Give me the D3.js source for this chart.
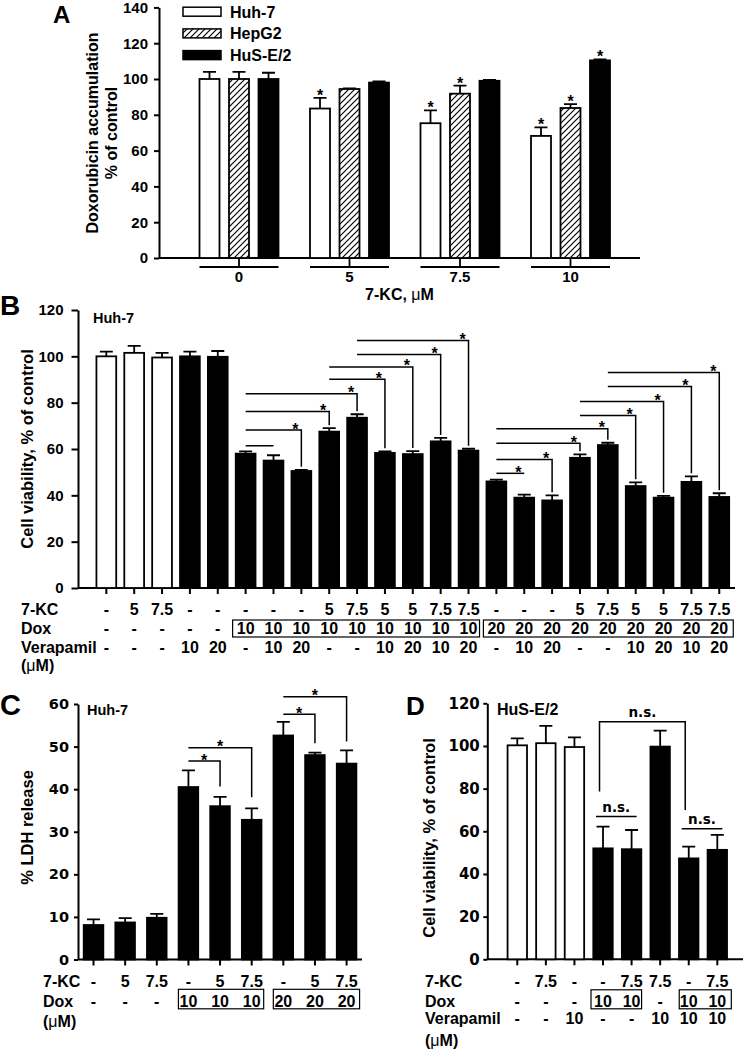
<!DOCTYPE html>
<html><head><meta charset="utf-8">
<script src="https://cdn.jsdelivr.net/npm/d3@7"></script>
<style>
body{margin:0;background:#fff}
svg{display:block}
text{font-family:"Liberation Sans",Arial,sans-serif;font-weight:bold;fill:#000}
</style>
</head><body>
<svg id="fig" width="748" height="1050"></svg>
<script>
// ================= DATA =================
// Panel A: doxorubicin accumulation
const aGroups = ["0", "5", "7.5", "10"];
const aSeries = ["Huh-7", "HepG2", "HuS-E/2"];
const aHuh7 = [100, 83.5, 75.3, 68.2];
const aHuh7Err = [4, 6, 7.2, 4.8];
const aHepG2 = [100, 94.4, 91.8, 83.8];
const aHepG2Err = [4, 0.3, 4.5, 2.2];
const aHuSE2 = [100, 98, 99, 110.4];
const aHuSE2Err = [3.5, 0.6, 0.5, 0.6];
const aHuh7Sig = [false, true, true, true];
const aHepG2Sig = [false, false, true, true];
const aHuSE2Sig = [false, false, false, true];
const aTicks = [0, 20, 40, 60, 80, 100, 120, 140];

// Panel B: Huh-7 cell viability
const bKC  = ["-","5","7.5","-","-","-","-","-","5","7.5","5","5","7.5","7.5","-","-","-","5","7.5","5","5","7.5","7.5"];
const bDox = ["-","-","-","-","-","10","10","10","10","10","10","10","10","10","20","20","20","20","20","20","20","20","20"];
const bVer = ["-","-","-","10","20","-","10","20","-","-","10","20","10","20","-","10","20","-","-","10","20","10","20"];
const bKind = ["ctrl","ctrl","ctrl","trt","trt","trt","trt","trt","trt","trt","trt","trt","trt","trt","trt","trt","trt","trt","trt","trt","trt","trt","trt"];
const bValues = [100, 101.5, 99.5, 100, 99.8, 58, 55, 50.5, 67.5, 73.5, 58.3, 57.8, 63.3, 59.3, 46, 39, 37.8, 56.2, 61.7, 44, 39, 45.8, 39.3];
const bErr    = [2, 3, 2, 2, 2.5, 1, 2.3, 0.5, 1.5, 1.5, 0.7, 1.3, 1.5, 0.8, 0.8, 1.3, 2.2, 1.5, 1, 1.6, 0.8, 2.4, 1.6];
// [from bar, to bar, bracket level, has asterisk, has drop]
const bBrackets = [
  [5, 6, 61.4, false, false], [5, 7, 68.2, true, true], [5, 8, 76.2, true, true], [5, 9, 83.9, true, true],
  [8, 10, 90.1, true, true], [8, 11, 95.4, true, true], [9, 12, 100.8, true, true], [9, 13, 106.8, true, true],
  [14, 15, 49.5, true, false], [14, 16, 55.5, true, true], [14, 17, 62.5, true, true], [14, 18, 68.7, true, true],
  [17, 19, 74.5, true, true], [17, 20, 80.5, true, true], [18, 21, 87, true, true], [18, 22, 93, true, true]
];
const bTicks = [0, 20, 40, 60, 80, 100, 120];

// Panel C: Huh-7 LDH release
const cKC  = ["-","5","7.5","-","5","7.5","-","5","7.5"];
const cDox = ["-","-","-","10","10","10","20","20","20"];
const cKind = ["trt","trt","trt","trt","trt","trt","trt","trt","trt"];
const cValues = [8.1, 8.7, 9.8, 40.5, 36, 32.8, 52.6, 48, 46];
const cErr    = [1.3, 1.0, 0.9, 3.9, 2.2, 2.7, 3.2, 0.6, 3.1];
// [from, to, level, drop end]
const cBrackets = [[3, 4, 46.6, 40.6], [3, 5, 49.7, 38.1], [6, 7, 57.6, 50.8], [6, 8, 61.7, 51.2]];
const cTicks = [0, 10, 20, 30, 40, 50, 60];

// Panel D: HuS-E/2 cell viability
const dKC  = ["-","7.5","-","-","7.5","7.5","-","7.5"];
const dDox = ["-","-","-","10","10","-","10","10"];
const dVer = ["-","-","10","-","-","10","10","10"];
const dKind = ["ctrl","ctrl","ctrl","trt","trt","trt","trt","trt"];
const dValues = [100.3, 101.3, 99.5, 52, 51.6, 99.7, 47.3, 51.3];
const dErr    = [3.3, 8.1, 4.5, 10.2, 9, 7.5, 5.5, 7];
// big bracket [from, to, level, left drop end, right drop end]
const dBigBracket = [3, 6, 111.4, 78.6, 70];
// small n.s. lines [from, to, level]
const dSmall = [[3, 4, 66.9], [6, 7, 61.2]];
const dTicks = [0, 20, 40, 60, 80, 100, 120];

// ================= DRAWING =================
const svg = d3.select("#fig");
const SANS = '"Liberation Sans", Arial, sans-serif';
const WIDE = '"DejaVu Sans", sans-serif';
const SW = 1.8;

const defs = svg.append("defs");
defs.append("pattern").attr("id", "hatch").attr("patternUnits", "userSpaceOnUse")
  .attr("width", 6).attr("height", 6)
  .call(p => {
    p.append("rect").attr("width", 6).attr("height", 6).attr("fill", "#fff");
    p.append("path").attr("d", "M-1,1 l2,-2 M0,6 l6,-6 M5,7 l2,-2")
      .attr("stroke", "#000").attr("stroke-width", 1.2);
  });

function leftAxis(x0, y, ticks, o) {
  const g = svg.append("g").attr("transform", `translate(${x0},0)`)
    .call(d3.axisLeft(y).tickValues(ticks).tickSize(o.tick).tickPadding(o.pad).tickSizeOuter(0));
  g.select(".domain").attr("stroke", "#000").attr("stroke-width", 2);
  g.selectAll(".tick line").attr("stroke", "#000").attr("stroke-width", 2);
  g.selectAll(".tick text").attr("fill", "#000")
    .style("font-family", o.font).style("font-size", o.size + "px").style("font-weight", "bold");
  return g;
}

function baseLine(x0, x1, yb) {
  svg.append("line").attr("x1", x0).attr("x2", x1).attr("y1", yb).attr("y2", yb)
    .attr("stroke", "#000").attr("stroke-width", 2);
}

function bottomTicks(x, yb, len) {
  const g = svg.append("g").attr("transform", `translate(0,${yb})`)
    .call(d3.axisBottom(x).tickSize(len).tickFormat("").tickSizeOuter(0));
  g.select(".domain").remove();
  g.selectAll(".tick line").attr("stroke", "#000").attr("stroke-width", 2);
}

function bars(x, y, vals, errs, kinds, cap) {
  const bw = x.bandwidth();
  const data = vals.map((v, i) => ({ i, v, e: errs[i], k: kinds[i] }));
  const g = svg.append("g");
  g.selectAll("path").data(data).join("path")
    .attr("d", d => {
      const cx = x(d.i) + bw / 2, yt = y(d.v + d.e);
      return `M${cx},${y(d.v)}V${yt}M${cx - cap},${yt}H${cx + cap}`;
    })
    .attr("stroke", "#000").attr("stroke-width", SW).attr("fill", "none");
  g.selectAll("rect").data(data).join("rect")
    .attr("x", d => x(d.i)).attr("y", d => y(d.v))
    .attr("width", bw).attr("height", d => y(0) - y(d.v))
    .attr("fill", d => d.k === "ctrl" ? "#fff" : "#000")
    .attr("stroke", "#000").attr("stroke-width", SW);
}

function rowLabels(x, rows, labelX, size) {
  const bw = x.bandwidth();
  rows.forEach(r => {
    const t = svg.append("text").attr("x", labelX).attr("y", r.yc + size * 0.36)
      .style("font-size", size + "px");
    if (r.label === "(μM)") {
      t.append("tspan").text("(");
      t.append("tspan").style("font-weight", "normal").text("μ");
      t.append("tspan").text("M)");
    } else t.text(r.label);
    if (r.vals) {
      svg.append("g").selectAll("text").data(r.vals).join("text")
        .attr("x", (d, i) => x(i) + bw / 2).attr("y", r.yc + size * 0.36)
        .attr("text-anchor", "middle").style("font-size", size + "px").text(d => d);
    }
  });
}

function box(x, i0, i1, yc, l, r, top, bot) {
  const bw = x.bandwidth();
  const xa = x(i0) + bw / 2 - l, xb = x(i1) + bw / 2 + r;
  svg.append("rect").attr("x", xa).attr("y", yc - top).attr("width", xb - xa).attr("height", top + bot)
    .attr("fill", "none").attr("stroke", "#000").attr("stroke-width", 1.2);
}

function star(xc, yLine, size) {
  svg.append("text").attr("x", xc).attr("y", yLine + 4.5).attr("text-anchor", "middle")
    .style("font-size", size + "px").text("*");
}

function yLabel(lines, xBase, yc, size, gap) {
  lines.forEach((s, i) => {
    svg.append("text").attr("transform", `translate(${xBase + i * gap},${yc}) rotate(-90)`)
      .attr("text-anchor", "middle").style("font-size", size + "px").text(s);
  });
}

function panelLetter(s, x, y, size) {
  svg.append("text").attr("x", x).attr("y", y).style("font-size", size + "px").text(s);
}

// ---------------- Panel A ----------------
{
  const y = d3.scaleLinear().domain([0, 140]).range([258, 7.4]);
  const xg = d3.scaleBand().domain(aGroups).range([183.75, 625.75]);
  const xs = d3.scaleBand().domain(aSeries).range([-39.5, 39.5]).paddingInner(0.322);
  const series = [
    { name: aSeries[0], vals: aHuh7, errs: aHuh7Err, sig: aHuh7Sig, fill: "#fff" },
    { name: aSeries[1], vals: aHepG2, errs: aHepG2Err, sig: aHepG2Sig, fill: "url(#hatch)" },
    { name: aSeries[2], vals: aHuSE2, errs: aHuSE2Err, sig: aHuSE2Sig, fill: "#000" }
  ];
  leftAxis(159, y, aTicks, { tick: 5, pad: 6, size: 15, font: SANS });
  baseLine(159, 640, y(0));
  const gc = g => xg(g) + xg.bandwidth() / 2;
  const bw = xs.bandwidth();
  series.forEach(s => {
    const data = aGroups.map((g, i) => ({ g, v: s.vals[i], e: s.errs[i], sig: s.sig[i] }));
    const G = svg.append("g");
    G.selectAll("path").data(data).join("path")
      .attr("d", d => {
        const cx = gc(d.g) + xs(s.name) + bw / 2, yt = y(d.v + d.e);
        return `M${cx},${y(d.v)}V${yt}M${cx - 6.5},${yt}H${cx + 6.5}`;
      }).attr("stroke", "#000").attr("stroke-width", SW).attr("fill", "none");
    G.selectAll("rect").data(data).join("rect")
      .attr("x", d => gc(d.g) + xs(s.name)).attr("y", d => y(d.v))
      .attr("width", bw).attr("height", d => y(0) - y(d.v))
      .attr("fill", s.fill).attr("stroke", "#000").attr("stroke-width", SW);
    G.selectAll("text").data(data.filter(d => d.sig)).join("text")
      .attr("x", d => gc(d.g) + xs(s.name) + bw / 2).attr("y", d => y(d.v + d.e) + 3)
      .attr("text-anchor", "middle").style("font-size", "16px").text("*");
  });
  // group underlines with ticks
  aGroups.forEach(g => {
    const c = gc(g);
    svg.append("path").attr("d", `M${c - 39.5},267H${c + 39.5}M${c},${y(0)}V267`)
      .attr("stroke", "#000").attr("stroke-width", 1.8).attr("fill", "none");
    svg.append("text").attr("x", c).attr("y", 281.5).attr("text-anchor", "middle")
      .style("font-size", "15px").text(g);
  });
  const xt = svg.append("text").attr("x", 399.5).attr("y", 300).attr("text-anchor", "middle").style("font-size", "16px");
  xt.append("tspan").text("7-KC, ");
  xt.append("tspan").style("font-weight", "normal").text("μ");
  xt.append("tspan").text("M");
  // legend
  series.forEach((s, i) => {
    const yc = 11.7 + i * 21.7;
    svg.append("rect").attr("x", 183).attr("y", yc - 4.5).attr("width", 38).attr("height", 9)
      .attr("fill", s.fill).attr("stroke", "#000").attr("stroke-width", 1.5);
    svg.append("text").attr("x", 230).attr("y", yc + 5.8).style("font-size", "16px").text(s.name);
  });
  yLabel(["Doxorubicin accumulation", "% of control"], 98, 133, 16, 19);
  panelLetter("A", 53, 23, 24);
}

// ---------------- Panel B ----------------
{
  const y = d3.scaleLinear().domain([0, 120]).range([588, 310]);
  const x = d3.scaleBand().domain(d3.range(bValues.length)).range([92.4, 733.2]).paddingInner(0.29).paddingOuter(0.145);
  const bw = x.bandwidth();
  const cx = i => x(i) + bw / 2;
  leftAxis(78, y, bTicks, { tick: 6.5, pad: 8, size: 15, font: SANS });
  baseLine(78, 735, y(0));
  bottomTicks(x, y(0), 6);
  bars(x, y, bValues, bErr, bKind, 6.5);
  bBrackets.forEach(([a, b, lvl, st, dr]) => {
    const yl = y(lvl);
    let d = `M${cx(a)},${yl}H${cx(b)}`;
    if (dr) d += `V${y(bValues[b] + bErr[b]) - 3}`;
    svg.append("path").attr("d", d).attr("stroke", "#000").attr("stroke-width", 1.5).attr("fill", "none");
    if (st) star(cx(b) - 6, yl, 16);
  });
  rowLabels(x, [
    { label: "7-KC", vals: bKC, yc: 609 },
    { label: "Dox", vals: bDox, yc: 628.5 },
    { label: "Verapamil", vals: bVer, yc: 647 },
    { label: "(μM)", yc: 665.5 }
  ], 21, 16);
  box(x, 5, 13, 628.5, 13, 11, 8.5, 8.5);
  box(x, 14, 22, 628.5, 13, 14, 8.5, 8.5);
  svg.append("text").attr("x", 93).attr("y", 323).style("font-size", "14.5px").text("Huh-7");
  yLabel(["Cell viability, % of control"], 33, 449, 16.5, 0);
  panelLetter("B", 0, 315, 28);
}

// ---------------- Panel C ----------------
{
  const y = d3.scaleLinear().domain([0, 60]).range([959.5, 704]);
  const x = d3.scaleBand().domain(d3.range(cValues.length)).range([77.7, 362.4]).paddingInner(0.38).paddingOuter(0.19);
  const bw = x.bandwidth();
  const cx = i => x(i) + bw / 2;
  leftAxis(78, y, cTicks, { tick: 4, pad: 5, size: 14.5, font: WIDE });
  baseLine(78, 362, y(0));
  bottomTicks(x, y(0), 6);
  bars(x, y, cValues, cErr, cKind, 6.5);
  cBrackets.forEach(([a, b, lvl, dropEnd]) => {
    const yl = y(lvl);
    svg.append("path").attr("d", `M${cx(a)},${yl}H${cx(b)}V${y(dropEnd)}`)
      .attr("stroke", "#000").attr("stroke-width", 1.5).attr("fill", "none");
    star((cx(a) + cx(b)) / 2, yl, 16);
  });
  rowLabels(x, [
    { label: "7-KC", vals: cKC, yc: 981.5 },
    { label: "Dox", vals: cDox, yc: 1001.3 },
    { label: "(μM)", yc: 1021.5 }
  ], 43, 16);
  box(x, 3, 5, 1001.3, 10, 12, 12, 7.5);
  box(x, 6, 8, 1001.3, 10, 13, 12, 7.5);
  svg.append("text").attr("x", 87).attr("y", 715).style("font-size", "14.5px").text("Huh-7");
  yLabel(["% LDH release"], 33, 827.5, 16.5, 0);
  panelLetter("C", 0, 715, 29);
}

// ---------------- Panel D ----------------
{
  const y = d3.scaleLinear().domain([0, 120]).range([959.3, 703.3]);
  const x = d3.scaleBand().domain(d3.range(dValues.length)).range([503, 731.6]).paddingInner(0.32).paddingOuter(0.16);
  const bw = x.bandwidth();
  const cx = i => x(i) + bw / 2;
  leftAxis(487.3, y, dTicks, { tick: 4, pad: 3.5, size: 15, font: WIDE });
  baseLine(487.3, 743, y(0));
  bottomTicks(x, y(0), 6);
  bars(x, y, dValues, dErr, dKind, 6.5);
  const [a, b, lvl, le, re] = dBigBracket;
  svg.append("path").attr("d", `M${cx(a) - 3.5},${y(le)}V${y(lvl)}H${cx(b) - 3.5}V${y(re)}`)
    .attr("stroke", "#000").attr("stroke-width", 1.5).attr("fill", "none");
  const ns = (xc, yl) => svg.append("text").attr("x", xc).attr("y", yl - 5).attr("text-anchor", "middle")
    .style("font-family", WIDE).style("font-size", "13.5px").text("n.s.");
  ns((cx(a) + cx(b)) / 2 - 3.5, y(lvl));
  dSmall.forEach(([s, e, l]) => {
    svg.append("line").attr("x1", cx(s) - 7).attr("x2", cx(e) + 5).attr("y1", y(l)).attr("y2", y(l))
      .attr("stroke", "#000").attr("stroke-width", 1.5);
    ns((cx(s) + cx(e)) / 2 - 1, y(l));
  });
  rowLabels(x, [
    { label: "7-KC", vals: dKC, yc: 981.5 },
    { label: "Dox", vals: dDox, yc: 1001.3 },
    { label: "Verapamil", vals: dVer, yc: 1018.7 },
    { label: "(μM)", yc: 1040 }
  ], 425, 16);
  box(x, 3, 4, 1001.3, 12, 10, 11.5, 7.5);
  box(x, 6, 7, 1001.3, 9.5, 14, 11.5, 7.5);
  svg.append("text").attr("x", 497).attr("y", 715).style("font-size", "16px").text("HuS-E/2");
  yLabel(["Cell viability, % of control"], 435, 838, 16.5, 0);
  panelLetter("D", 406, 715, 26);
}
</script>
</body></html>
